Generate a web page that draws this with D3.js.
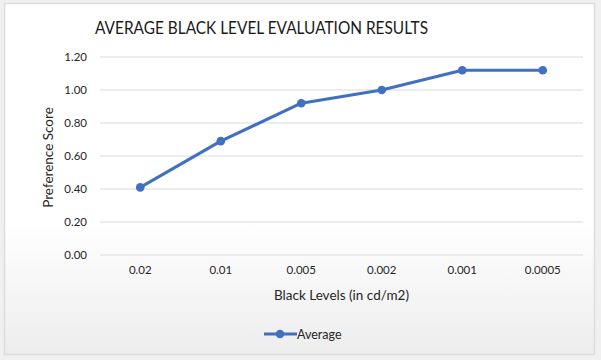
<!DOCTYPE html>
<html><head><meta charset="utf-8">
<script src="https://cdn.jsdelivr.net/npm/d3@7"></script>
<style>body{margin:0;background:#f2f2f2;}svg{display:block;}</style>
</head><body>
<svg id="c" width="601" height="360"></svg>
<script>
const categories = ["0.02","0.01","0.005","0.002","0.001","0.0005"];
const averageValues = [0.41, 0.69, 0.92, 1.00, 1.12, 1.12];
const yTicks = [0, 0.2, 0.4, 0.6, 0.8, 1.0, 1.2];
const seriesName = "Average";
const title = "AVERAGE BLACK LEVEL EVALUATION RESULTS";
const xTitle = "Black Levels (in cd/m2)";
const yTitle = "Preference Score";

const svg = d3.select("#c");
const font = "Lato, 'Open Sans', sans-serif";
const txt = "#262626";
const blue = "#4170c0";

const defs = svg.append("defs");
const g = defs.append("linearGradient").attr("id","bg").attr("x1",0).attr("y1",0).attr("x2",0).attr("y2",1);
g.append("stop").attr("offset","0%").attr("stop-color","#ffffff");
g.append("stop").attr("offset","62%").attr("stop-color","#ffffff");
g.append("stop").attr("offset","100%").attr("stop-color","#ededed");
svg.append("rect").attr("width",601).attr("height",360).attr("fill","#f0f0f0");
svg.append("rect").attr("x",4.5).attr("y",3.5).attr("width",590).attr("height",351)
  .attr("fill","url(#bg)").attr("stroke","#dcdcdc").attr("stroke-width",1.5);

const x = d3.scaleBand().domain(categories).range([100, 583]);
const y = d3.scaleLinear().domain([0, 1.2]).range([255, 57]);

// gridlines
svg.append("g").selectAll("line").data(yTicks).join("line")
  .attr("x1",100).attr("x2",583).attr("y1",d=>y(d)).attr("y2",d=>y(d))
  .attr("stroke","#dcdcdc").attr("stroke-width",1.2);

// y axis labels
const ya = svg.append("g").attr("transform","translate(100,0)")
  .call(d3.axisLeft(y).tickValues(yTicks).tickFormat(d3.format(".2f")).tickSize(0).tickPadding(13));
ya.select(".domain").remove();
ya.selectAll("text").attr("font-family",font).attr("font-size",11.5).attr("fill",txt);

// x axis labels
const xa = svg.append("g").attr("transform","translate(0,262)")
  .call(d3.axisBottom(x).tickSize(0).tickPadding(4));
xa.select(".domain").remove();
xa.selectAll("text").attr("font-family",font).attr("font-size",11.5).attr("fill",txt);

// line
const line = d3.line().x((d,i)=>x(categories[i])+x.bandwidth()/2).y(d=>y(d));
svg.append("path").datum(averageValues).attr("d",line).attr("fill","none")
  .attr("stroke",blue).attr("stroke-width",3).attr("stroke-linejoin","round");
svg.append("g").selectAll("circle").data(averageValues).join("circle")
  .attr("cx",(d,i)=>x(categories[i])+x.bandwidth()/2).attr("cy",d=>y(d)).attr("r",4.3).attr("fill",blue);

// titles
svg.append("text").attr("x",261.5).attr("y",33.5).attr("text-anchor","middle")
  .attr("font-family",font).attr("font-size",17.5).attr("fill","#1a1a1a")
  .attr("textLength",333).attr("lengthAdjust","spacingAndGlyphs").text(title);
svg.append("text").attr("x",341.5).attr("y",300).attr("text-anchor","middle")
  .attr("font-family",font).attr("font-size",13.5).attr("fill",txt).text(xTitle);
svg.append("text").attr("transform","translate(53,157.5) rotate(-90)").attr("text-anchor","middle")
  .attr("font-family",font).attr("font-size",13.5).attr("fill",txt).text(yTitle);

// legend
svg.append("line").attr("x1",264).attr("x2",297).attr("y1",334).attr("y2",334).attr("stroke",blue).attr("stroke-width",3);
svg.append("circle").attr("cx",280).attr("cy",334).attr("r",4.3).attr("fill",blue);
svg.append("text").attr("x",297).attr("y",338.5).attr("font-family",font).attr("font-size",12.5).attr("fill",txt).text(seriesName);
</script>
</body></html>
